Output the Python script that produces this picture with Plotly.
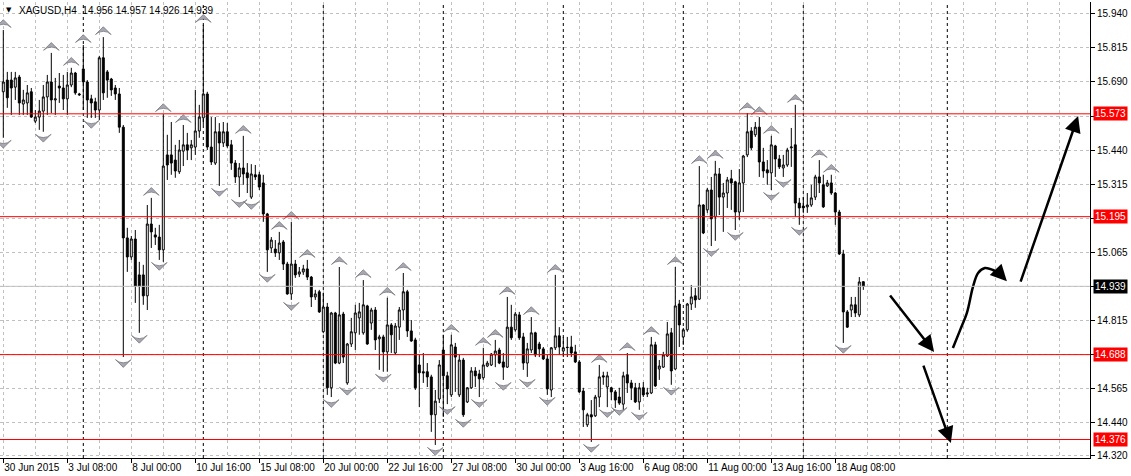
import plotly.graph_objects as go

# ---------------- data (XAGUSD, H4) ----------------
opens = [15.654, 15.697, 15.697, 15.671, 15.708, 15.609, 15.613, 15.654, 15.546, 15.561,
         15.583, 15.635, 15.690, 15.624, 15.675, 15.668, 15.628, 15.679, 15.723, 15.646,
         15.738, 15.690, 15.628, 15.617, 15.587, 15.779, 15.727, 15.701, 15.668, 15.646,
         15.524, 15.117, 15.047, 15.113, 14.981, 14.981, 14.904, 15.168, 15.128, 15.120,
         15.073, 15.422, 15.422, 15.403, 15.360, 15.436, 15.459, 15.448, 15.451, 15.510,
         15.558, 15.646, 15.451, 15.392, 15.507, 15.466, 15.507, 15.459, 15.392, 15.341,
         15.374, 15.356, 15.267, 15.349, 15.349, 15.319, 15.205, 15.080, 15.076, 15.062,
         15.102, 15.021, 14.911, 15.021, 14.984, 14.992, 15.003, 14.973, 14.900, 14.919,
         14.772, 14.863, 14.566, 14.841, 14.657, 14.837, 14.584, 14.727, 14.768, 14.823,
         14.768, 14.867, 14.804, 14.852, 14.746, 14.753, 14.698, 14.797, 14.694, 14.789,
         14.852, 14.919, 14.775, 14.742, 14.650, 14.625, 14.625, 14.606, 14.467, 14.525,
         14.705, 14.610, 14.540, 14.716, 14.540, 14.668, 14.514, 14.566, 14.628, 14.617,
         14.603, 14.646, 14.650, 14.687, 14.705, 14.661, 14.642, 14.789, 14.779, 14.834,
         14.753, 14.657, 14.705, 14.768, 14.727, 14.709, 14.672, 14.558, 14.713, 14.757,
         14.701, 14.715, 14.716, 14.698, 14.661, 14.554, 14.430, 14.467, 14.463, 14.532,
         14.610, 14.569, 14.566, 14.551, 14.532, 14.506, 14.614, 14.584, 14.566, 14.514,
         14.566, 14.543, 14.547, 14.724, 14.635, 14.642, 14.683, 14.768, 14.635, 14.874,
         14.753, 14.779, 14.874, 14.904, 14.892, 15.238, 15.220, 15.293, 15.194, 15.352,
         15.267, 15.282, 15.334, 15.323, 15.212, 15.319, 15.422, 15.510, 15.496, 15.524,
         15.396, 15.367, 15.356, 15.455, 15.407, 15.374, 15.385, 15.448, 15.459, 15.245,
         15.234, 15.231, 15.238, 15.267, 15.341, 15.312, 15.308, 15.319, 15.282, 15.212,
         15.058, 14.845, 14.852, 14.871, 14.834, 14.956]

highs = [15.881, 15.727, 15.727, 15.727, 15.716, 15.661, 15.679, 15.668, 15.587, 15.624,
         15.679, 15.716, 15.797, 15.705, 15.723, 15.716, 15.727, 15.742, 15.727, 15.650,
         15.826, 15.697, 15.643, 15.632, 15.786, 15.855, 15.734, 15.705, 15.679, 15.668,
         15.532, 15.154, 15.124, 15.146, 15.029, 15.018, 15.238, 15.264, 15.154, 15.165,
         15.572, 15.496, 15.543, 15.459, 15.477, 15.532, 15.503, 15.477, 15.661, 15.606,
         15.900, 15.654, 15.561, 15.561, 15.539, 15.543, 15.539, 15.477, 15.403, 15.392,
         15.492, 15.392, 15.388, 15.385, 15.360, 15.349, 15.209, 15.120, 15.109, 15.139,
         15.109, 15.029, 15.176, 15.036, 15.010, 15.018, 15.036, 14.977, 14.926, 14.926,
         14.915, 14.878, 14.845, 14.845, 15.010, 14.845, 14.731, 14.823, 14.871, 14.878,
         14.962, 14.871, 14.860, 14.863, 14.761, 14.761, 14.897, 14.804, 14.804, 14.863,
         14.988, 14.926, 14.815, 14.750, 14.687, 14.694, 14.657, 14.614, 14.558, 14.668,
         14.761, 14.625, 14.761, 14.731, 14.687, 14.676, 14.569, 14.642, 14.642, 14.632,
         14.713, 14.665, 14.694, 14.742, 14.713, 14.694, 14.900, 14.871, 14.845, 14.845,
         14.768, 14.731, 14.826, 14.772, 14.735, 14.716, 14.687, 14.716, 14.981, 14.789,
         14.753, 14.753, 14.757, 14.724, 14.668, 14.566, 14.474, 14.521, 14.540, 14.650,
         14.625, 14.625, 14.569, 14.558, 14.566, 14.625, 14.694, 14.595, 14.584, 14.584,
         14.587, 14.566, 14.753, 14.735, 14.668, 14.698, 14.808, 14.786, 15.010, 14.889,
         14.786, 14.878, 14.944, 14.933, 15.381, 15.241, 15.301, 15.341, 15.400, 15.374,
         15.319, 15.341, 15.367, 15.327, 15.370, 15.422, 15.576, 15.524, 15.543, 15.561,
         15.448, 15.403, 15.492, 15.459, 15.422, 15.422, 15.448, 15.521, 15.606, 15.264,
         15.267, 15.282, 15.312, 15.349, 15.403, 15.349, 15.330, 15.349, 15.286, 15.220,
         15.073, 14.852, 14.900, 14.900, 14.973, 14.957]

lows = [15.485, 15.595, 15.569, 15.624, 15.569, 15.569, 15.569, 15.558, 15.539, 15.514,
        15.507, 15.569, 15.576, 15.569, 15.613, 15.587, 15.569, 15.671, 15.643, 15.639,
        15.587, 15.558, 15.558, 15.558, 15.550, 15.624, 15.632, 15.639, 15.624, 15.503,
        14.679, 14.992, 15.036, 14.878, 14.768, 14.871, 14.852, 15.080, 15.091, 15.036,
        15.029, 15.330, 15.349, 15.338, 15.352, 15.381, 15.403, 15.403, 15.422, 15.485,
        15.532, 15.440, 15.385, 15.385, 15.308, 15.451, 15.448, 15.367, 15.319, 15.267,
        15.312, 15.282, 15.260, 15.330, 15.293, 15.176, 14.992, 15.062, 15.047, 15.036,
        14.999, 14.908, 14.889, 14.970, 14.973, 14.981, 14.962, 14.863, 14.889, 14.841,
        14.768, 14.540, 14.532, 14.653, 14.653, 14.657, 14.577, 14.716, 14.705, 14.761,
        14.761, 14.724, 14.779, 14.705, 14.632, 14.625, 14.625, 14.694, 14.687, 14.742,
        14.815, 14.753, 14.735, 14.558, 14.495, 14.584, 14.569, 14.404, 14.356, 14.510,
        14.459, 14.506, 14.532, 14.551, 14.532, 14.459, 14.510, 14.562, 14.569, 14.532,
        14.595, 14.642, 14.646, 14.642, 14.653, 14.595, 14.639, 14.742, 14.772, 14.742,
        14.632, 14.606, 14.694, 14.679, 14.679, 14.668, 14.540, 14.532, 14.705, 14.687,
        14.679, 14.679, 14.679, 14.657, 14.547, 14.422, 14.422, 14.367, 14.459, 14.495,
        14.577, 14.495, 14.521, 14.492, 14.503, 14.485, 14.547, 14.521, 14.510, 14.485,
        14.532, 14.532, 14.543, 14.569, 14.595, 14.639, 14.679, 14.577, 14.632, 14.716,
        14.724, 14.772, 14.852, 14.860, 14.889, 15.131, 15.209, 15.087, 15.106, 15.201,
        15.139, 15.227, 15.220, 15.146, 15.183, 15.212, 15.414, 15.440, 15.488, 15.341,
        15.338, 15.312, 15.293, 15.341, 15.370, 15.341, 15.378, 15.378, 15.194, 15.165,
        15.209, 15.209, 15.231, 15.256, 15.282, 15.227, 15.304, 15.275, 15.165, 15.054,
        14.731, 14.786, 14.826, 14.826, 14.826, 14.926]

closes = [15.690, 15.632, 15.668, 15.705, 15.613, 15.624, 15.650, 15.561, 15.561, 15.583,
          15.635, 15.690, 15.624, 15.628, 15.668, 15.628, 15.679, 15.723, 15.650, 15.643,
          15.690, 15.624, 15.613, 15.587, 15.779, 15.650, 15.697, 15.661, 15.646, 15.524,
          15.117, 15.047, 15.113, 14.940, 14.940, 14.904, 15.168, 15.139, 15.120, 15.073,
          15.381, 15.385, 15.392, 15.363, 15.440, 15.459, 15.440, 15.459, 15.510, 15.561,
          15.646, 15.451, 15.396, 15.507, 15.466, 15.507, 15.455, 15.392, 15.341, 15.374,
          15.352, 15.338, 15.352, 15.341, 15.304, 15.205, 15.073, 15.109, 15.062, 15.098,
          15.021, 14.911, 15.021, 14.981, 14.992, 15.003, 14.973, 14.900, 14.911, 14.845,
          14.863, 14.566, 14.841, 14.657, 14.834, 14.679, 14.727, 14.772, 14.841, 14.845,
          14.871, 14.727, 14.852, 14.742, 14.753, 14.698, 14.797, 14.761, 14.793, 14.852,
          14.919, 14.775, 14.738, 14.566, 14.621, 14.621, 14.606, 14.467, 14.517, 14.650,
          14.610, 14.562, 14.724, 14.679, 14.668, 14.467, 14.566, 14.628, 14.610, 14.599,
          14.650, 14.657, 14.690, 14.701, 14.657, 14.642, 14.789, 14.750, 14.837, 14.750,
          14.657, 14.709, 14.768, 14.687, 14.709, 14.672, 14.562, 14.713, 14.757, 14.716,
          14.713, 14.714, 14.694, 14.661, 14.551, 14.485, 14.467, 14.459, 14.532, 14.606,
          14.606, 14.610, 14.551, 14.521, 14.510, 14.610, 14.584, 14.566, 14.514, 14.566,
          14.540, 14.547, 14.724, 14.573, 14.646, 14.687, 14.764, 14.628, 14.867, 14.797,
          14.779, 14.874, 14.900, 14.889, 15.238, 15.135, 15.293, 15.187, 15.352, 15.267,
          15.282, 15.330, 15.319, 15.212, 15.319, 15.418, 15.507, 15.448, 15.524, 15.396,
          15.363, 15.356, 15.459, 15.407, 15.378, 15.385, 15.440, 15.451, 15.245, 15.227,
          15.227, 15.238, 15.264, 15.341, 15.319, 15.231, 15.319, 15.282, 15.212, 15.058,
          14.845, 14.789, 14.871, 14.841, 14.955, 14.939]

bars = list(range(len(opens)))

up_fractal_bars = [0, 12, 17, 20, 25, 37, 40, 45, 50, 60, 69, 72, 76, 84, 90, 96, 100,
                   112, 120, 123, 126, 132, 138, 149, 156, 162, 168, 174, 178, 186, 189,
                   192, 198, 204, 207]
down_fractal_bars = [0, 10, 22, 30, 34, 39, 54, 59, 62, 66, 72, 82, 86, 95, 108, 111,
                     115, 119, 125, 131, 136, 147, 151, 154, 159, 167, 177, 183, 192, 195,
                     199, 210]

label_bars = [0, 16, 32, 48, 64, 80, 96, 112, 128, 144, 160, 176, 192, 208]
time_labels = ["30 Jun 2015", "3 Jul 08:00", "8 Jul 00:00", "10 Jul 16:00", "15 Jul 08:00",
               "20 Jul 00:00", "22 Jul 16:00", "27 Jul 08:00", "30 Jul 00:00", "3 Aug 16:00",
               "6 Aug 08:00", "11 Aug 00:00", "13 Aug 16:00", "18 Aug 08:00"]
grid_bars = list(range(0, 272, 8))
separator_bars = [20, 50, 80, 110, 140, 170, 200, 236]

price_grid = [15.940, 15.815, 15.690, 15.565, 15.440, 15.315, 15.190, 15.065,
              14.940, 14.815, 14.690, 14.565, 14.440, 14.318]
price_grid_text = ["15.940", "15.815", "15.690", "", "15.440", "15.315", "", "15.065",
                   "", "14.815", "", "14.565", "14.440", "14.320"]

red_levels = [15.573, 15.195, 14.688, 14.376]
bid_level = 14.939

# forecast drawings (bar index, price)
straight_arrows = [  # tail_bar, tail_price, tip_bar, tip_price
    (221.4, 14.911, 232.7, 14.698),
    (229.9, 14.653, 236.9, 14.363),
    (254.2, 14.951, 268.7, 15.565),
]
curve_bars = [237.4, 239.2, 240.9, 242.4, 243.7, 245.4, 247.4, 249.2]
curve_prices = [14.712, 14.778, 14.841, 14.936, 14.988, 15.006, 14.999, 14.984]
curve_tip = (250.9, 14.958)

instrument = "XAGUSD,H4"

# ---------------- figure ----------------
FONT = "Liberation Sans, Arial, sans-serif"
fig = go.Figure()

fig.add_trace(go.Candlestick(
    x=bars, open=opens, high=highs, low=lows, close=closes,
    increasing=dict(line=dict(color="black", width=1), fillcolor="white"),
    decreasing=dict(line=dict(color="black", width=1), fillcolor="black"),
    whiskerwidth=0, hoverinfo="skip", showlegend=False,
))

frac_off = 0.038
fig.add_trace(go.Scatter(
    x=up_fractal_bars, y=[highs[i] + frac_off for i in up_fractal_bars],
    mode="markers", hoverinfo="skip", showlegend=False,
    marker=dict(symbol="arrow-wide", size=11, angle=0, color="#a8a8b2",
                line=dict(color="#6a6a74", width=0.7)),
))
fig.add_trace(go.Scatter(
    x=down_fractal_bars, y=[lows[i] - frac_off for i in down_fractal_bars],
    mode="markers", hoverinfo="skip", showlegend=False,
    marker=dict(symbol="arrow-wide", size=11, angle=180, color="#a8a8b2",
                line=dict(color="#6a6a74", width=0.7)),
))

# curved forecast line
fig.add_trace(go.Scatter(
    x=curve_bars, y=curve_prices, mode="lines", hoverinfo="skip", showlegend=False,
    line=dict(color="black", width=2.5, shape="spline"),
))

shapes = []
for b in separator_bars:
    shapes.append(dict(type="line", xref="x", yref="paper", x0=b, x1=b, y0=0, y1=1,
                       line=dict(color="black", width=1, dash="3px,3px"), layer="between"))
shapes.append(dict(type="line", xref="paper", yref="y", x0=0, x1=1, y0=bid_level, y1=bid_level,
                   line=dict(color="#c0c0c0", width=1), layer="above"))
for lv in red_levels:
    shapes.append(dict(type="line", xref="paper", yref="y", x0=0, x1=1, y0=lv, y1=lv,
                       line=dict(color="#ff0000", width=1), layer="above"))

annotations = []
for lv in red_levels:
    annotations.append(dict(xref="paper", yref="y", x=1, y=lv, xanchor="left", yanchor="middle",
                            xshift=3, text=f"{lv:.3f}", showarrow=False, bgcolor="#ff0000",
                            borderpad=1, font=dict(family=FONT, size=10, color="white")))
annotations.append(dict(xref="paper", yref="y", x=1, y=bid_level, xanchor="left", yanchor="middle",
                        xshift=3, text=f"{bid_level:.3f}", showarrow=False, bgcolor="black",
                        borderpad=1, font=dict(family=FONT, size=10, color="white")))

for tb, tp, hb, hp in straight_arrows:
    annotations.append(dict(x=hb, y=hp, ax=tb, ay=tp, xref="x", yref="y", axref="x", ayref="y",
                            text="", showarrow=True, arrowhead=2, arrowsize=1.3,
                            arrowwidth=2.5, arrowcolor="black"))
annotations.append(dict(x=curve_tip[0], y=curve_tip[1], ax=curve_bars[-1], ay=curve_prices[-1],
                        xref="x", yref="y", axref="x", ayref="y", text="", showarrow=True,
                        arrowhead=2, arrowsize=1.3, arrowwidth=2.5, arrowcolor="black"))

# header text
title_text = (f"{instrument}&nbsp;&nbsp;{opens[-1]:.3f} {highs[-1]:.3f} "
              f"{lows[-1]:.3f} {closes[-1]:.3f}")
annotations.append(dict(xref="paper", yref="paper", x=17 / 1090, y=0.982, xanchor="left",
                        yanchor="middle", text=title_text, showarrow=False,
                        font=dict(family=FONT, size=10, color="black")))
annotations.append(dict(xref="paper", yref="paper", x=9 / 1090, y=0.982, xanchor="center",
                        yanchor="middle", text="▼", showarrow=False,
                        font=dict(family="DejaVu Sans", size=7, color="black")))

fig.update_layout(
    width=1131, height=476,
    margin=dict(l=0, r=41, t=2, b=18),
    paper_bgcolor="white", plot_bgcolor="white",
    showlegend=False,
    shapes=shapes, annotations=annotations,
    font=dict(family=FONT, size=10, color="black"),
    xaxis=dict(
        range=[-0.825, 271.675], rangeslider=dict(visible=False),
        tickmode="array", tickvals=label_bars, ticktext=time_labels,
        ticks="outside", ticklen=4, tickcolor="black", ticklabelposition="outside right",
        tickangle=0, automargin=False,
        showgrid=False, zeroline=False,
        showline=True, linecolor="black", linewidth=1,
        minor=dict(tickmode="array", tickvals=grid_bars, showgrid=True, gridcolor="#c0c0c0",
                   griddash="3px,3px", gridwidth=1, ticks=""),
        tickfont=dict(family=FONT, size=10, color="black"),
        fixedrange=True,
    ),
    yaxis=dict(
        side="right", range=[14.308, 15.984], automargin=False,
        tickmode="array", tickvals=price_grid, ticktext=price_grid_text,
        ticks="outside", ticklen=4, tickcolor="black",
        showgrid=True, gridcolor="#c0c0c0", griddash="3px,3px", gridwidth=1,
        zeroline=False, showline=True, linecolor="black", linewidth=1,
        tickfont=dict(family=FONT, size=10, color="black"),
        fixedrange=True,
    ),
)

fig.write_html("out.html", config={"displayModeBar": False, "staticPlot": True},
               post_script="document.body.style.margin='0px';document.body.style.overflow='hidden';")
